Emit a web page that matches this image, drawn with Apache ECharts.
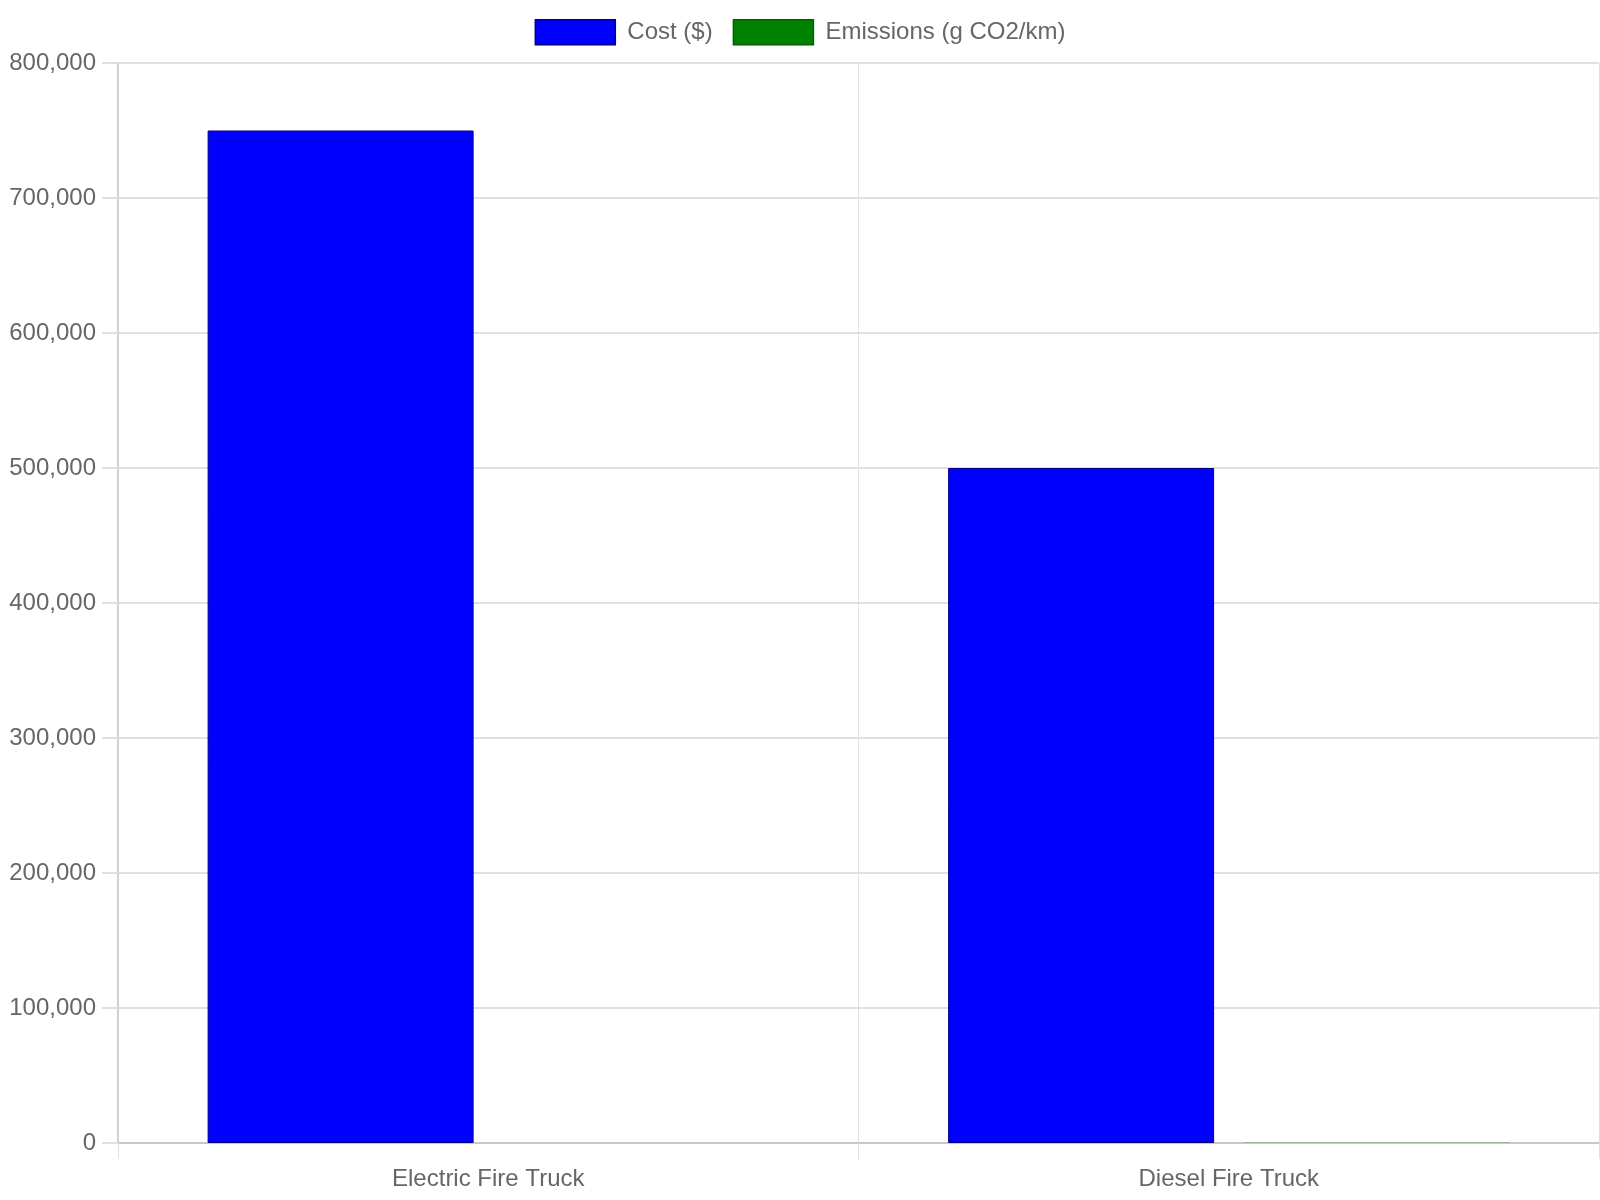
<!DOCTYPE html>
<html>
<head>
<meta charset="utf-8">
<script src="https://cdn.jsdelivr.net/npm/echarts@6/dist/echarts.min.js"></script>
<style>
  html, body { margin: 0; padding: 0; background: #fff; }
  #chart { width: 1600px; height: 1200px; }
</style>
</head>
<body>
<div id="chart"></div>
<script>
// 数据
const categories = ["Electric Fire Truck", "Diesel Fire Truck"];
const costValues = [750000, 500000];
const emissionValues = [0, 250];
const seriesNames = ["Cost ($)", "Emissions (g CO2/km)"];

(function () {
    let myChart = echarts.init(document.getElementById('chart'));
    let font = "'Liberation Sans', Arial, sans-serif";
    let option = {
        animation: false,
        textStyle: { fontFamily: font },
        legend: {
            top: 14,
            left: 'center',
            icon: 'rect',
            itemWidth: 80,
            itemHeight: 25,
            itemGap: 20,
            data: seriesNames,
            itemStyle: { borderWidth: 1.5, borderColor: 'inherit' },
            textStyle: { color: "#666", fontSize: 24, fontFamily: font, padding: [0, 0, 0, 7] }
        },
        grid: {
            left: 118,
            right: 1,
            top: 63,
            bottom: 57,
            containLabel: false
        },
        xAxis: {
            type: 'category',
            data: categories,
            boundaryGap: true,
            axisLine: { lineStyle: { color: "#c8c8c8", width: 2 } },
            axisTick: { show: true, length: 16, lineStyle: { color: "#e0e0e0" } },
            splitLine: { show: true, lineStyle: { color: "#e0e0e0" } },
            axisLabel: { color: "#666", fontSize: 24, fontFamily: font, margin: 24 }
        },
        yAxis: {
            type: 'value',
            min: 0,
            max: 800000,
            interval: 100000,
            axisLine: { show: true, lineStyle: { color: "#d0d0d0", width: 2 } },
            axisTick: { show: true, length: 16, lineStyle: { color: "#e0e0e0", width: 2 } },
            splitLine: { show: true, lineStyle: { color: "#e0e0e0", width: 2 } },
            axisLabel: {
                color: "#666",
                fontSize: 24,
                fontFamily: font,
                margin: 22,
                formatter: function (v) { return v.toLocaleString('en-US'); }
            }
        },
        series: [
            {
                name: seriesNames[0],
                type: 'bar',
                data: costValues,
                barWidth: 266,
                barGap: '11%',
                itemStyle: { color: "#0000ff", borderColor: "#00008b", borderWidth: 1 }
            },
            {
                name: seriesNames[1],
                type: 'bar',
                data: emissionValues,
                barWidth: 266,
                itemStyle: { color: "#008000", borderColor: "#006400", borderWidth: 0 }
            }
        ]
    };

    myChart.setOption(option);
    window.addEventListener("resize", function () {
        myChart.resize();
    });
})();
</script>
</body>
</html>
